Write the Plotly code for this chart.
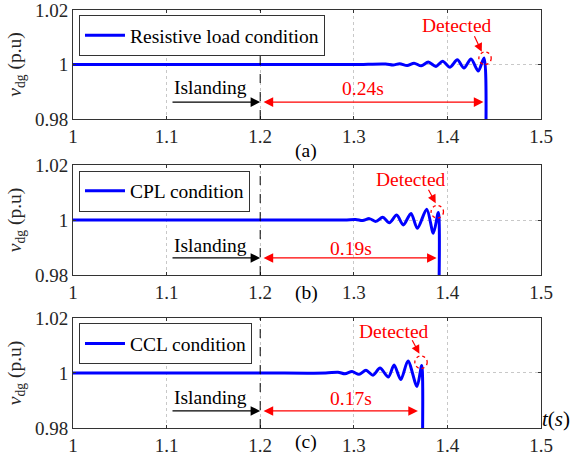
import plotly.graph_objects as go

# ---------------- data ----------------
t_res = [1.0, 1.2, 1.30, 1.334, 1.342, 1.349, 1.357, 1.3644, 1.372, 1.3796, 1.3878,
         1.3949, 1.4028, 1.4106, 1.4177, 1.4252, 1.4330, 1.4391, 1.4410]
v_res = [1.0, 1.0, 1.0, 1.0002, 0.9998, 1.0003, 0.9996, 1.0005, 0.9995, 1.0009, 0.9993,
         1.0012, 0.9990, 1.0017, 0.9987, 1.0020, 0.9976, 1.0024, 0.970]

t_cpl = [1.0, 1.2, 1.29, 1.3020, 1.3095, 1.3166, 1.3237, 1.3309, 1.3380, 1.3458, 1.3529,
         1.3611, 1.3679, 1.3779, 1.3850, 1.3903, 1.3908]
v_cpl = [1.0, 1.0, 1.0, 1.0002, 0.9998, 1.0005, 0.9995, 1.0010, 0.9990, 1.0018, 0.9982,
         1.0024, 0.9970, 1.0039, 0.9952, 1.0027, 0.970]

t_ccl = [1.0, 1.2, 1.27, 1.2831, 1.2906, 1.2981, 1.3056, 1.3130, 1.3205, 1.3280, 1.3369,
         1.3430, 1.3502, 1.3579, 1.3675, 1.3725, 1.3732]
v_ccl = [1.0, 1.0, 1.0, 1.0003, 0.9997, 1.0005, 0.9995, 1.0010, 0.9992, 1.0018, 0.9985,
         1.0029, 0.9976, 1.0044, 0.9951, 1.0027, 0.970]

series_names = ["Resistive load condition", "CPL condition", "CCL condition"]
series_t = [t_res, t_cpl, t_ccl]
series_v = [v_res, v_cpl, v_ccl]
islanding_time = 1.2
detect_times = [1.44, 1.39, 1.37]
delay_labels = ["0.24s", "0.19s", "0.17s"]
panel_labels = ["(a)", "(b)", "(c)"]
x_ticks = [1, 1.1, 1.2, 1.3, 1.4, 1.5]
x_ticktext = ["1", "1.1", "1.2", "1.3", "1.4", "1.5"]
y_ticks = [0.98, 1.0, 1.02]
y_ticktext = ["0.98", "1", "1.02"]

# ---------------- figure ----------------
FONT = "Liberation Serif"
FS = 19.5
BLUE = "#0000FF"
RED = "#FF0000"
FRAME = "#333333"

y_domains = [[0.7392, 1.0], [0.366, 0.6292], [0.0, 0.2632]]
legend_y = [0.988, 0.6156, 0.2505]
island_text_pos = [(1.147, 0.9914), (1.147, 0.9909), (1.147, 0.9910)]
delay_text_pos = [(1.3098, 0.9912), (1.297, 0.9898), (1.2967, 0.9906)]
detected_text_pos = [(1.4103, 1.0142), (1.3608, 1.0146), (1.343, 1.0152)]
detected_tip = [(1.4367, 1.0047, -8, -17), (1.3875, 1.0061, -8, -15), (1.3701, 1.0070, -8, -15)]
circle_c = [(1.4402, 1.0023), (1.3892, 1.0030), (1.3718, 1.0039)]
arrow_y = 0.9862
panel_label_y = [151, 306, 455]

fig = go.Figure()
layout = dict(
    width=586, height=470,
    margin=dict(l=73, r=45, t=10, b=42, autoexpand=False),
    paper_bgcolor="white", plot_bgcolor="white",
    font=dict(family=FONT, size=FS, color="#262626"),
    showlegend=True,
)
annotations = []
shapes = []

for i in range(3):
    sfx = "" if i == 0 else str(i + 1)
    xa, ya = "x" + sfx, "y" + sfx
    leg = "legend" + sfx
    fig.add_trace(go.Scatter(
        x=series_t[i], y=series_v[i], mode="lines", name=series_names[i],
        line=dict(color=BLUE, width=3, shape="spline", smoothing=0.8),
        xaxis=xa, yaxis=ya, legend=leg,
    ))
    layout["xaxis" + sfx] = dict(
        domain=[0, 1], anchor=ya, range=[1, 1.5], automargin=False,
        tickvals=x_ticks, ticktext=x_ticktext, ticklabeloverflow="allow",
        ticks="inside", ticklen=3, tickcolor=FRAME,
        showline=True, linecolor=FRAME, linewidth=1, mirror="ticks",
        showgrid=True, gridcolor="#c8c8c8", griddash="dot", gridwidth=1,
        zeroline=False, tickfont=dict(family=FONT, size=19, color="#262626"),
    )
    layout["yaxis" + sfx] = dict(
        domain=y_domains[i], anchor=xa, range=[0.98, 1.02], automargin=False,
        tickvals=y_ticks, ticktext=y_ticktext, ticklabeloverflow="allow",
        ticks="inside", ticklen=3, tickcolor=FRAME,
        showline=True, linecolor=FRAME, linewidth=1, mirror="ticks",
        showgrid=True, gridcolor="#c8c8c8", griddash="dot", gridwidth=1,
        zeroline=False, tickfont=dict(family=FONT, size=19, color="#262626"),
        title=dict(text="<i>v</i><sub>dg</sub> (p.u)", standoff=8,
                   font=dict(family=FONT, size=FS, color="#262626")),
    )
    layout[leg] = dict(
        x=0.0128, y=legend_y[i], xanchor="left", yanchor="top",
        bgcolor="white", bordercolor=FRAME, borderwidth=1,
        font=dict(family=FONT, size=FS, color="black"),
        itemwidth=40,
    )
    shapes.append(dict(type="line", xref=xa, yref=ya, x0=islanding_time, x1=islanding_time,
                       y0=0.98, y1=1.02, line=dict(color="black", width=1, dash="dash")))
    cx, cy = circle_c[i]
    shapes.append(dict(type="circle", xref=xa, yref=ya, x0=cx - 0.0066, x1=cx + 0.0066,
                       y0=cy - 0.0023, y1=cy + 0.0023,
                       line=dict(color=RED, width=1.3, dash="dot")))
    annotations.append(dict(xref=xa, yref=ya, axref=xa, ayref=ya,
                            x=islanding_time, y=arrow_y, ax=1.1047, ay=arrow_y,
                            text="", showarrow=True, arrowhead=2, arrowsize=1.6,
                            arrowwidth=1.2, arrowcolor="black"))
    annotations.append(dict(xref=xa, yref=ya, x=island_text_pos[i][0], y=island_text_pos[i][1],
                            text="Islanding", showarrow=False,
                            font=dict(family=FONT, size=FS, color="black")))
    annotations.append(dict(xref=xa, yref=ya, axref=xa, ayref=ya,
                            x=detect_times[i] - 0.0015, y=arrow_y, ax=islanding_time + 0.002, ay=arrow_y,
                            text="", showarrow=True, arrowhead=2, startarrowhead=2,
                            arrowside="end+start", arrowsize=1.6, startarrowsize=1.6,
                            arrowwidth=1.2, arrowcolor=RED))
    annotations.append(dict(xref=xa, yref=ya, x=delay_text_pos[i][0], y=delay_text_pos[i][1],
                            text=delay_labels[i], showarrow=False,
                            font=dict(family=FONT, size=FS, color=RED)))
    annotations.append(dict(xref=xa, yref=ya, x=detected_text_pos[i][0], y=detected_text_pos[i][1],
                            text="Detected", showarrow=False,
                            font=dict(family=FONT, size=FS, color=RED)))
    tx, ty, dx, dy = detected_tip[i]
    annotations.append(dict(xref=xa, yref=ya, x=tx, y=ty, ax=dx, ay=dy,
                            text="", showarrow=True, arrowhead=2, arrowsize=1.4,
                            arrowwidth=1.2, arrowcolor=RED))
    annotations.append(dict(xref="paper", yref="paper", x=(306 - 73) / 468,
                            y=1 - (panel_label_y[i] - 10) / 418,
                            text=panel_labels[i], showarrow=False,
                            font=dict(family=FONT, size=FS, color="black")))

annotations.append(dict(xref="paper", yref="paper", x=(572 - 73) / 468, y=1 - (433 - 10) / 418,
                        text="<i>t</i>(<i>s</i>)", showarrow=False,
                        font=dict(family=FONT, size=21, color="black")))

layout["annotations"] = annotations
layout["shapes"] = shapes
fig.update_layout(**layout)
fig.write_html("out.html")
